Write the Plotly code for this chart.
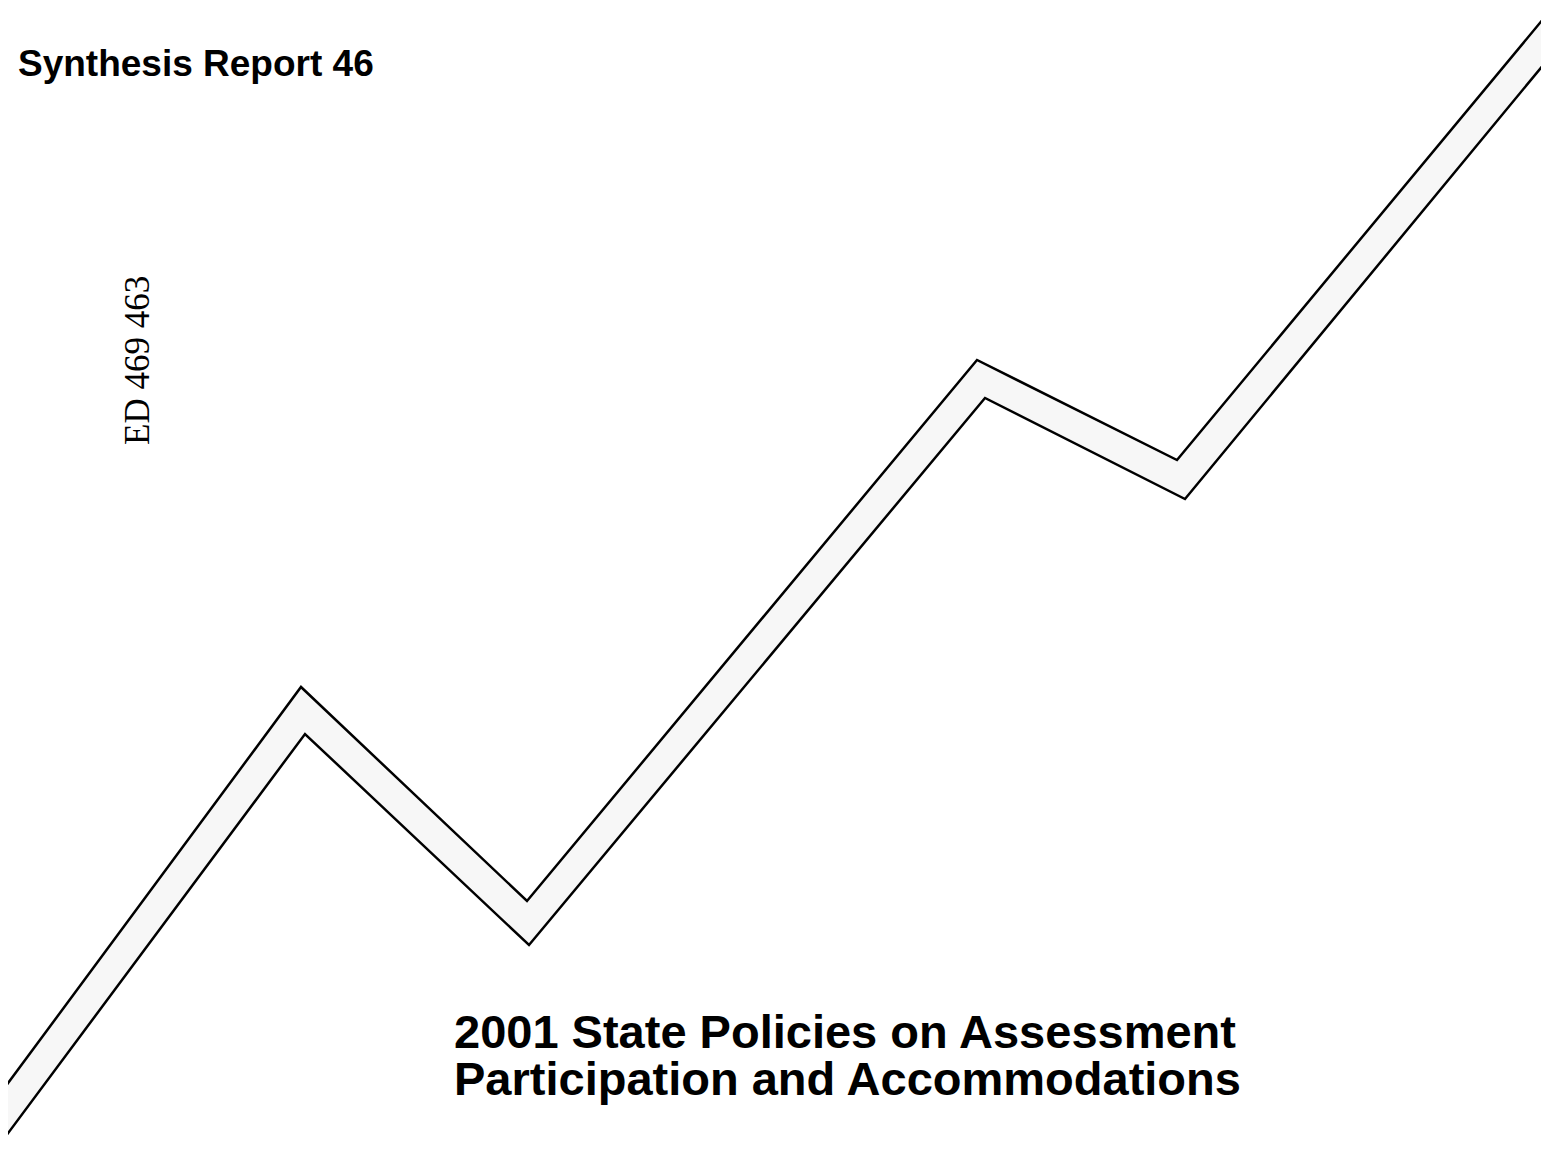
import plotly.graph_objects as go

# Zigzag "growth" line (two parallel strokes), page pixel coordinates
upper_x = [0, 301, 527, 977, 1177, 1549]
upper_y = [1094, 687, 901, 360, 460, 12]
lower_x = [0, 305, 529, 985, 1185, 1549]
lower_y = [1144, 734, 945, 398, 499, 58]

header_text = "Synthesis Report 46"
side_text = "ED 469 463"
title_lines = ["2001 State Policies on Assessment", "Participation and Accommodations"]

W, H = 1549, 1150
PAD = 8  # default page body margin of the html page

fig = go.Figure()

# light band between the strokes
fig.add_trace(go.Scatter(
    x=upper_x + lower_x[::-1],
    y=upper_y + lower_y[::-1],
    mode="lines", fill="toself", fillcolor="rgba(0,0,0,0.03)",
    line=dict(width=0), hoverinfo="skip", showlegend=False))

for xs, ys in [(upper_x, upper_y), (lower_x, lower_y)]:
    fig.add_trace(go.Scatter(
        x=xs, y=ys, mode="lines",
        line=dict(color="black", width=2.5),
        hoverinfo="skip", showlegend=False))

fig.add_annotation(x=16, y=63, xref="x", yref="y", text="<b>" + header_text + "</b>",
                   showarrow=False, xanchor="left", yanchor="middle",
                   font=dict(family="Liberation Sans, Arial, sans-serif", size=37, color="black"))

fig.add_annotation(x=137, y=361, xref="x", yref="y", text=side_text, textangle=-90,
                   showarrow=False, xanchor="center", yanchor="middle",
                   font=dict(family="Liberation Serif, Times New Roman, serif", size=35, color="black"))

fig.add_annotation(x=452, y=1031, xref="x", yref="y", text="<b>" + title_lines[0] + "</b>",
                   showarrow=False, xanchor="left", yanchor="middle",
                   font=dict(family="Liberation Sans, Arial, sans-serif", size=47, color="black"))
fig.add_annotation(x=452, y=1078, xref="x", yref="y", text="<b>" + title_lines[1] + "</b>",
                   showarrow=False, xanchor="left", yanchor="middle",
                   font=dict(family="Liberation Sans, Arial, sans-serif", size=47, color="black"))

fig.update_xaxes(range=[PAD, W], visible=False, fixedrange=True)
fig.update_yaxes(range=[H, PAD], visible=False, fixedrange=True)
fig.update_layout(width=W - PAD, height=H - PAD, margin=dict(l=0, r=0, t=0, b=0),
                  paper_bgcolor="white", plot_bgcolor="white")

fig.write_html("out.html", config={"displayModeBar": False})
